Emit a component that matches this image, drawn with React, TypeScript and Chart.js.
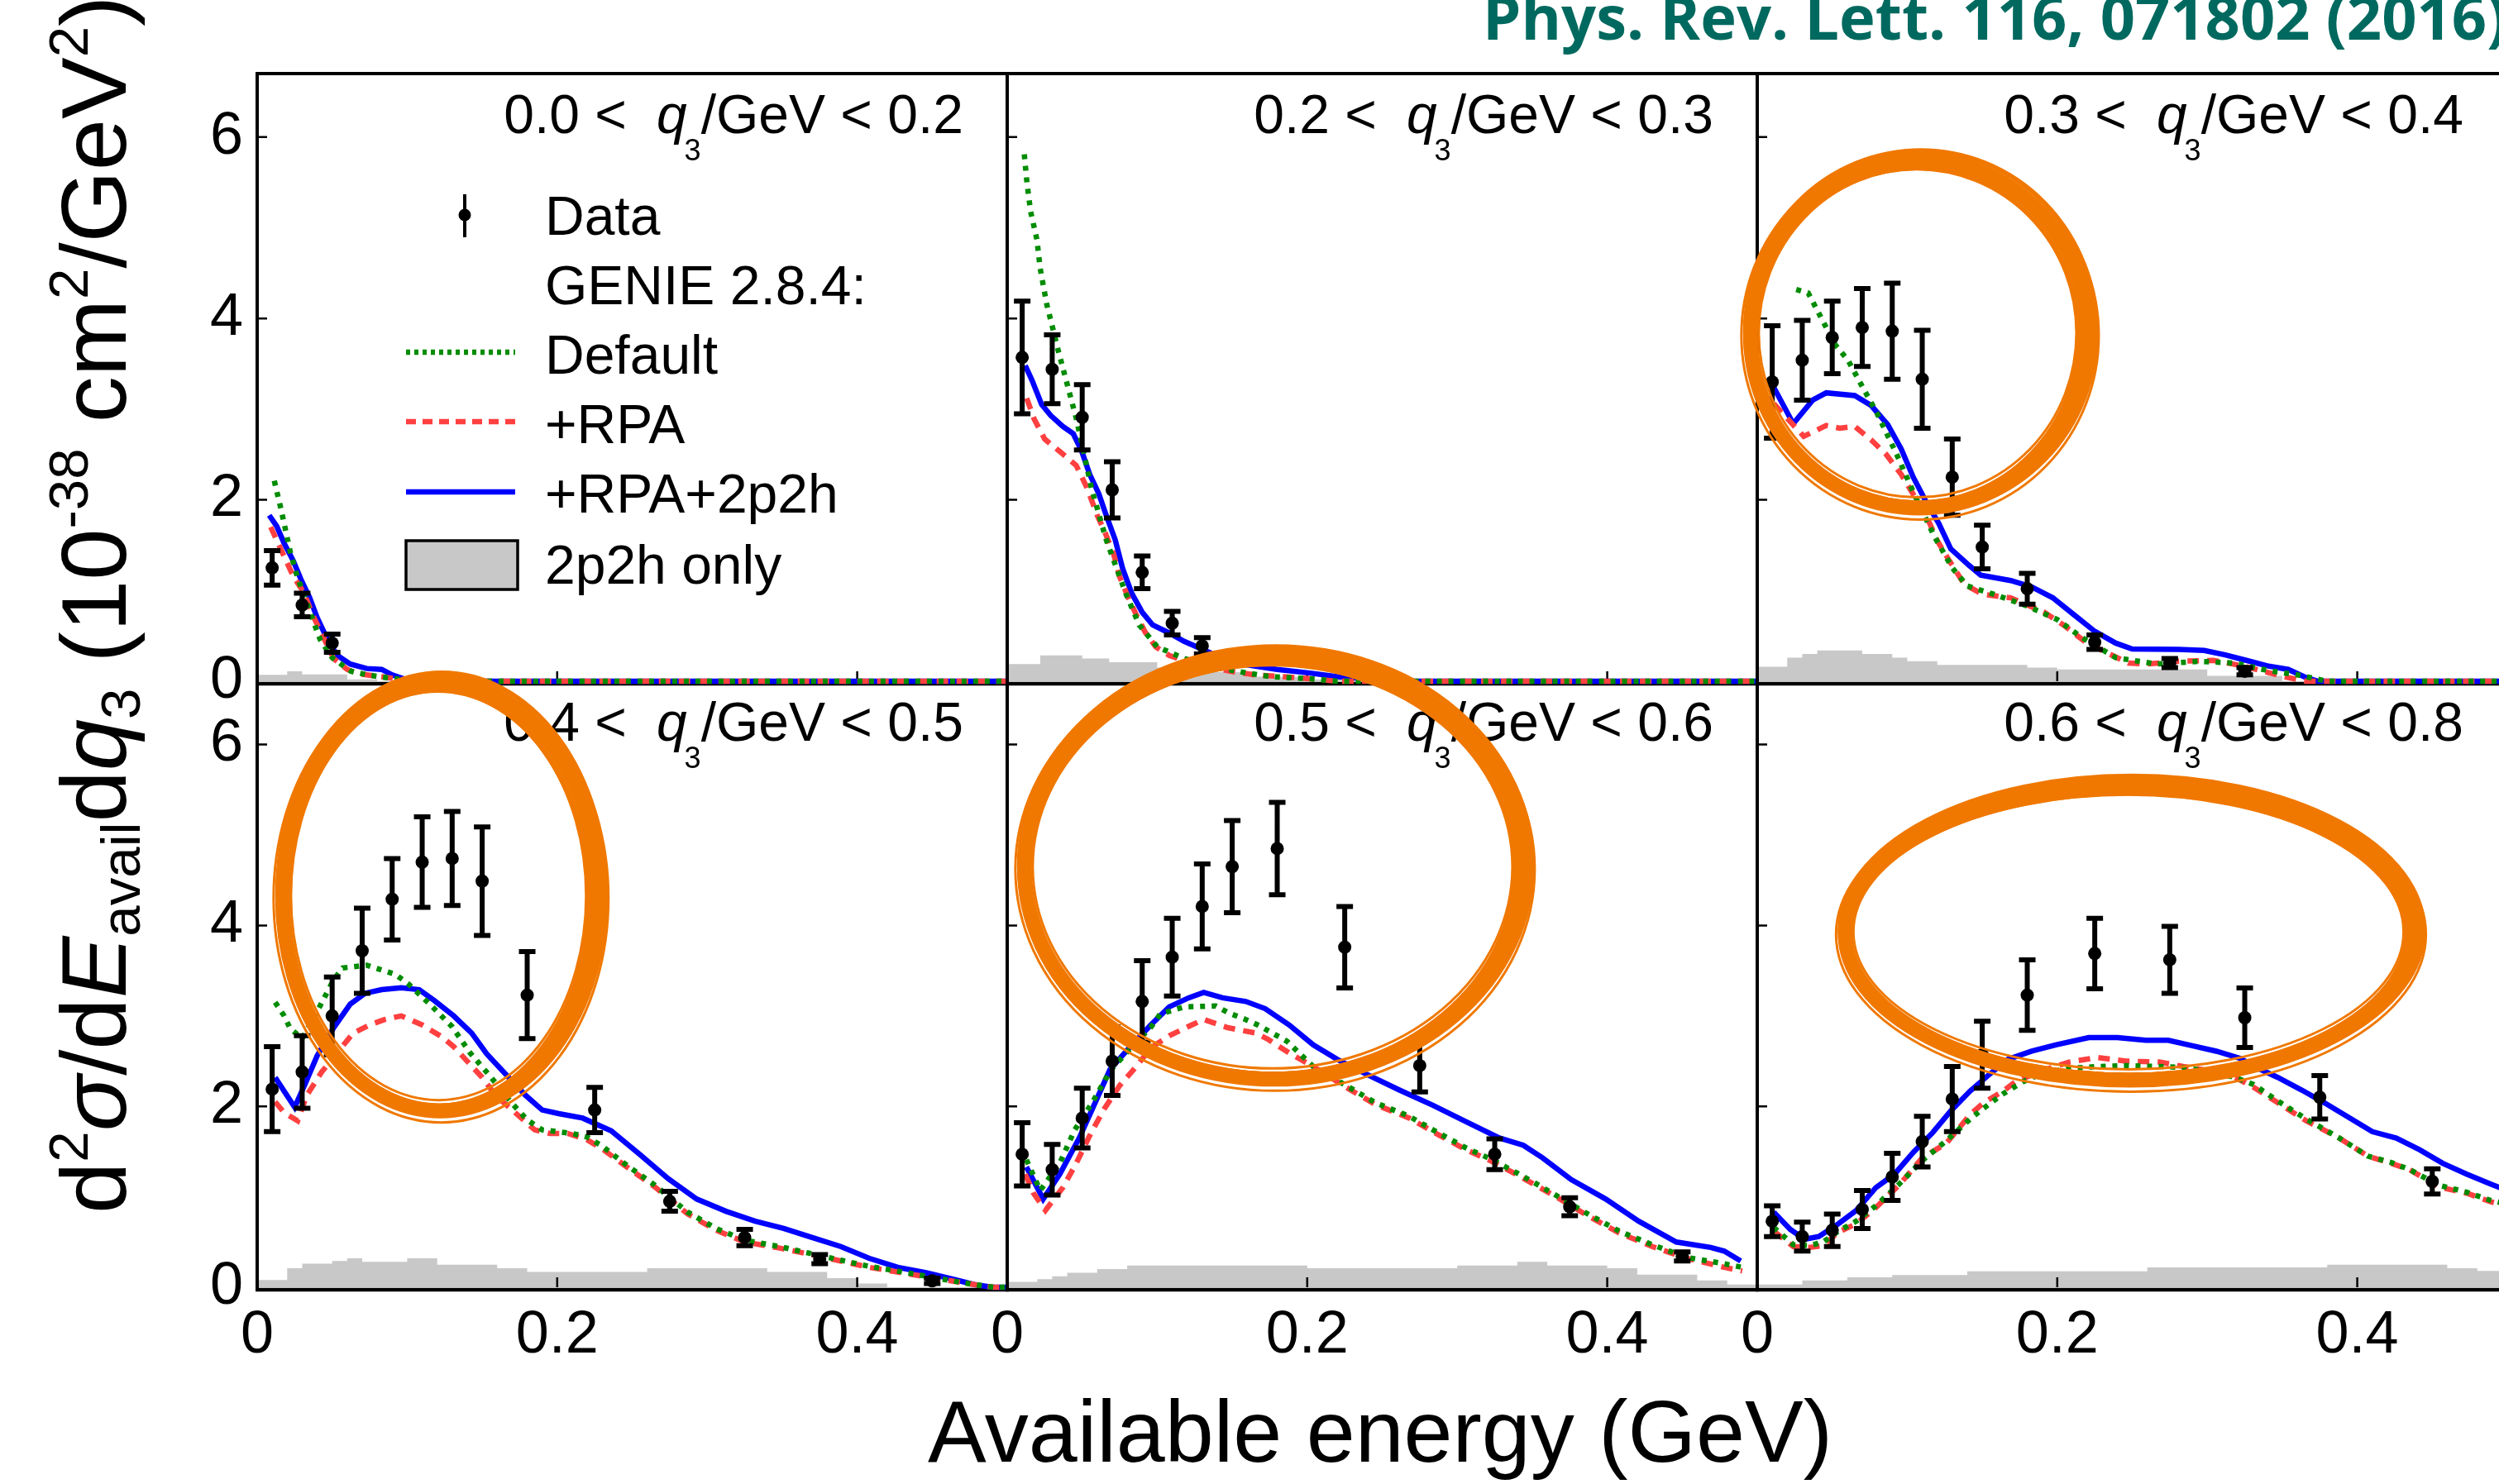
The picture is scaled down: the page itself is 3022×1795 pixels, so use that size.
import React, { useEffect, useRef } from 'react';
import { Chart, registerables } from 'chart.js';

Chart.register(...registerables);

type P = [number, number];

const FONT = "'Liberation Sans', Arial, Helvetica, sans-serif";
const ORANGE = '#f07800';
const BLUE = '#0000ff';
const RED = '#ff4040';
const GREEN = '#008c00';
const GRAY = '#c8c8c8';

// ---------- tick labels ----------
const xTicks = [0, 0.2, 0.4];
const yTicks = [0, 2, 4, 6];
const q3Low = ['0.0', '0.2', '0.3', '0.4', '0.5', '0.6'];
const q3High = ['0.2', '0.3', '0.4', '0.5', '0.6', '0.8'];
const legendLabels = ['Data', 'GENIE 2.8.4:', 'Default', '+RPA', '+RPA+2p2h', '2p2h only'];

// ---------- panel 1: 0.0 < q3 < 0.2 ----------
const p1DataX = [0.01, 0.03, 0.05];
const p1DataY = [1.25, 0.84, 0.42];
const p1DataErr = [0.19, 0.13, 0.1];
const p1Blue: P[] = [[0.008, 1.83], [0.013, 1.71], [0.018, 1.52], [0.024, 1.33], [0.029, 1.13], [0.035, 0.92], [0.04, 0.7], [0.046, 0.49], [0.053, 0.29], [0.062, 0.19], [0.073, 0.14], [0.083, 0.13], [0.09, 0.07], [0.099, 0.02], [0.11, 0], [0.5, 0]];
const p1Red: P[] = [[0.009, 1.7], [0.0165, 1.43], [0.024, 1.16], [0.031, 0.98], [0.037, 0.73], [0.044, 0.49], [0.051, 0.25], [0.06, 0.13], [0.068, 0.08], [0.083, 0.05], [0.1, 0.01], [0.11, 0], [0.5, 0]];
const p1Green: P[] = [[0.0114, 2.21], [0.016, 1.89], [0.022, 1.43], [0.0266, 1.16], [0.0386, 0.61], [0.042, 0.46], [0.05, 0.26], [0.0625, 0.11], [0.0735, 0.07], [0.09, 0.03], [0.11, 0], [0.5, 0]];
const p1Gray: P[] = [[0, 0.07], [0.02, 0.11], [0.03, 0.075], [0.06, 0.02], [0.08, 0], [0.5, 0]];

// ---------- panel 2: 0.2 < q3 < 0.3 ----------
const p2DataX = [0.01, 0.03, 0.05, 0.07, 0.09, 0.11, 0.13];
const p2DataY = [3.57, 3.44, 2.91, 2.11, 1.2, 0.64, 0.39];
const p2DataErr = [0.62, 0.38, 0.36, 0.31, 0.18, 0.13, 0.09];
const p2Blue: P[] = [[0.012, 3.48], [0.0165, 3.32], [0.023, 3.05], [0.029, 2.93], [0.037, 2.81], [0.044, 2.73], [0.0496, 2.54], [0.055, 2.28], [0.061, 2.07], [0.066, 1.83], [0.072, 1.56], [0.077, 1.24], [0.083, 0.97], [0.09, 0.76], [0.097, 0.62], [0.107, 0.54], [0.118, 0.44], [0.129, 0.36], [0.142, 0.265], [0.156, 0.19], [0.18, 0.13], [0.202, 0.09], [0.22, 0.05], [0.24, 0.03], [0.26, 0], [0.5, 0]];
const p2Red: P[] = [[0.013, 3.12], [0.018, 2.89], [0.025, 2.67], [0.036, 2.52], [0.046, 2.38], [0.053, 2.14], [0.06, 1.83], [0.065, 1.65], [0.071, 1.4], [0.075, 1.15], [0.081, 0.91], [0.086, 0.735], [0.092, 0.54], [0.099, 0.38], [0.108, 0.285], [0.118, 0.226], [0.129, 0.17], [0.149, 0.11], [0.165, 0.07], [0.184, 0.05], [0.2, 0.03], [0.22, 0], [0.5, 0]];
const p2Green: P[] = [[0.0114, 5.81], [0.0132, 5.49], [0.0156, 5.18], [0.0198, 4.87], [0.022, 4.55], [0.0263, 4.16], [0.031, 3.85], [0.033, 3.71], [0.037, 3.46], [0.046, 2.9], [0.05, 2.6], [0.056, 2.14], [0.066, 1.56], [0.079, 0.97], [0.088, 0.62], [0.1, 0.38], [0.118, 0.25], [0.14, 0.15], [0.16, 0.09], [0.176, 0.05], [0.2, 0.03], [0.22, 0], [0.5, 0]];
const p2Gray: P[] = [[0, 0.19], [0.022, 0.285], [0.05, 0.25], [0.068, 0.21], [0.1, 0.15], [0.13, 0.1], [0.16, 0.05], [0.2, 0.02], [0.26, 0], [0.5, 0]];

// ---------- panel 3: 0.3 < q3 < 0.4 ----------
const p3DataX = [0.01, 0.03, 0.05, 0.07, 0.09, 0.11, 0.13, 0.15, 0.18, 0.225, 0.275, 0.325];
const p3DataY = [3.3, 3.54, 3.79, 3.9, 3.86, 3.33, 2.25, 1.48, 1.02, 0.43, 0.2, 0.11];
const p3DataErr = [0.62, 0.44, 0.4, 0.43, 0.53, 0.54, 0.42, 0.24, 0.17, 0.08, 0.05, 0.04];
const p3Blue: P[] = [[0.011, 3.24], [0.024, 2.84], [0.037, 3.1], [0.046, 3.18], [0.065, 3.15], [0.076, 3.04], [0.087, 2.83], [0.096, 2.56], [0.104, 2.25], [0.1125, 1.98], [0.121, 1.74], [0.129, 1.46], [0.141, 1.28], [0.149, 1.17], [0.169, 1.11], [0.183, 1.04], [0.197, 0.92], [0.211, 0.735], [0.225, 0.55], [0.239, 0.42], [0.25, 0.355], [0.281, 0.35], [0.298, 0.34], [0.312, 0.29], [0.326, 0.23], [0.34, 0.17], [0.354, 0.13], [0.366, 0.04], [0.374, 0], [0.5, 0]];
const p3Red: P[] = [[0.011, 3.06], [0.031, 2.7], [0.046, 2.82], [0.055, 2.79], [0.065, 2.81], [0.076, 2.66], [0.086, 2.5], [0.096, 2.28], [0.107, 1.98], [0.115, 1.74], [0.12, 1.55], [0.128, 1.33], [0.138, 1.07], [0.15, 0.96], [0.169, 0.92], [0.18, 0.84], [0.191, 0.765], [0.205, 0.61], [0.219, 0.43], [0.2335, 0.31], [0.2475, 0.2], [0.26, 0.19], [0.281, 0.22], [0.304, 0.23], [0.3235, 0.17], [0.3375, 0.11], [0.354, 0.04], [0.366, 0], [0.5, 0]];
const p3Green: P[] = [[0.026, 4.32], [0.034, 4.28], [0.052, 3.71], [0.0605, 3.54], [0.07, 3.25], [0.08, 2.95], [0.093, 2.5], [0.105, 2.05], [0.118, 1.6], [0.13, 1.25], [0.14, 1.05], [0.1575, 0.96], [0.18, 0.83], [0.2, 0.68], [0.2166, 0.48], [0.239, 0.26], [0.266, 0.19], [0.295, 0.22], [0.318, 0.2], [0.34, 0.12], [0.36, 0.07], [0.38, 0], [0.5, 0]];
const p3Gray: P[] = [[0, 0.16], [0.02, 0.26], [0.03, 0.3], [0.04, 0.34], [0.07, 0.3], [0.09, 0.26], [0.1, 0.22], [0.12, 0.18], [0.18, 0.15], [0.2, 0.13], [0.3, 0.06], [0.35, 0], [0.5, 0]];

// ---------- panel 4: 0.4 < q3 < 0.5 ----------
const p4DataX = [0.01, 0.03, 0.05, 0.07, 0.09, 0.11, 0.13, 0.15, 0.18, 0.225, 0.275, 0.325, 0.375, 0.45];
const p4DataY = [2.19, 2.38, 3.0, 3.72, 4.29, 4.7, 4.74, 4.49, 3.23, 1.96, 0.95, 0.55, 0.31, 0.07];
const p4DataErr = [0.47, 0.4, 0.43, 0.47, 0.45, 0.5, 0.52, 0.6, 0.48, 0.25, 0.11, 0.09, 0.05, 0.03];
const p4Blue: P[] = [[0.012, 2.32], [0.025, 1.99], [0.032, 2.25], [0.04, 2.56], [0.051, 2.87], [0.062, 3.13], [0.072, 3.25], [0.083, 3.29], [0.096, 3.31], [0.108, 3.29], [0.118, 3.17], [0.131, 3.0], [0.143, 2.81], [0.153, 2.58], [0.166, 2.35], [0.179, 2.12], [0.19, 1.96], [0.201, 1.92], [0.217, 1.87], [0.236, 1.73], [0.255, 1.47], [0.274, 1.2], [0.293, 0.975], [0.3125, 0.84], [0.332, 0.73], [0.351, 0.65], [0.37, 0.55], [0.389, 0.45], [0.408, 0.32], [0.427, 0.22], [0.446, 0.16], [0.466, 0.08], [0.478, 0.03], [0.49, 0], [0.5, 0]];
const p4Red: P[] = [[0.012, 2.05], [0.018, 1.93], [0.027, 1.84], [0.033, 2.12], [0.043, 2.38], [0.064, 2.81], [0.075, 2.9], [0.085, 2.96], [0.096, 3.0], [0.11, 2.9], [0.123, 2.77], [0.131, 2.66], [0.15, 2.32], [0.159, 2.12], [0.172, 1.93], [0.185, 1.74], [0.195, 1.7], [0.207, 1.7], [0.22, 1.63], [0.23, 1.53], [0.2455, 1.34], [0.265, 1.11], [0.287, 0.81], [0.306, 0.63], [0.325, 0.5], [0.3476, 0.435], [0.367, 0.37], [0.389, 0.29], [0.408, 0.22], [0.43, 0.16], [0.453, 0.095], [0.478, 0.03], [0.491, 0], [0.5, 0]];
const p4Green: P[] = [[0.012, 3.15], [0.018, 3.0], [0.022, 2.86], [0.03, 2.75], [0.04, 3.05], [0.051, 3.4], [0.057, 3.53], [0.073, 3.56], [0.092, 3.46], [0.101, 3.35], [0.115, 3.13], [0.13, 2.88], [0.142, 2.59], [0.156, 2.32], [0.169, 2.05], [0.18, 1.85], [0.19, 1.74], [0.2, 1.72], [0.21, 1.7], [0.22, 1.66], [0.23, 1.56], [0.2455, 1.36], [0.265, 1.13], [0.287, 0.83], [0.306, 0.65], [0.325, 0.52], [0.348, 0.45], [0.367, 0.38], [0.389, 0.3], [0.408, 0.23], [0.43, 0.17], [0.453, 0.1], [0.478, 0.03], [0.491, 0], [0.5, 0]];
const p4Gray: P[] = [[0, 0.08], [0.02, 0.21], [0.03, 0.26], [0.05, 0.29], [0.06, 0.32], [0.07, 0.28], [0.1, 0.32], [0.12, 0.25], [0.16, 0.21], [0.18, 0.17], [0.26, 0.21], [0.34, 0.17], [0.38, 0.1], [0.4, 0.04], [0.42, 0], [0.5, 0]];

// ---------- panel 5: 0.5 < q3 < 0.6 ----------
const p5DataX = [0.01, 0.03, 0.05, 0.07, 0.09, 0.11, 0.13, 0.15, 0.18, 0.225, 0.275, 0.325, 0.375, 0.45];
const p5DataY = [1.47, 1.3, 1.87, 2.5, 3.16, 3.65, 4.21, 4.65, 4.85, 3.76, 2.45, 1.47, 0.89, 0.34];
const p5DataErr = [0.35, 0.28, 0.33, 0.38, 0.45, 0.43, 0.47, 0.51, 0.51, 0.45, 0.29, 0.17, 0.1, 0.05];
const p5Blue: P[] = [[0.0128, 1.33], [0.024, 0.975], [0.035, 1.25], [0.048, 1.65], [0.057, 1.98], [0.0686, 2.41], [0.081, 2.64], [0.0957, 2.9], [0.108, 3.1], [0.121, 3.2], [0.131, 3.26], [0.1435, 3.2], [0.159, 3.16], [0.172, 3.08], [0.188, 2.9], [0.204, 2.68], [0.22, 2.52], [0.239, 2.36], [0.2615, 2.18], [0.284, 2.01], [0.306, 1.83], [0.328, 1.65], [0.344, 1.57], [0.357, 1.43], [0.376, 1.19], [0.399, 0.975], [0.421, 0.73], [0.446, 0.5], [0.469, 0.44], [0.478, 0.4], [0.489, 0.29]];
const p5Red: P[] = [[0.012, 1.25], [0.0175, 1.04], [0.0255, 0.85], [0.037, 1.1], [0.046, 1.37], [0.056, 1.71], [0.065, 1.98], [0.075, 2.23], [0.086, 2.44], [0.096, 2.65], [0.108, 2.78], [0.123, 2.9], [0.131, 2.96], [0.147, 2.87], [0.166, 2.81], [0.174, 2.74], [0.188, 2.59], [0.204, 2.44], [0.226, 2.21], [0.2455, 2.02], [0.268, 1.87], [0.287, 1.69], [0.306, 1.52], [0.322, 1.4], [0.338, 1.26], [0.351, 1.14], [0.367, 0.99], [0.386, 0.8], [0.408, 0.6], [0.43, 0.45], [0.453, 0.32], [0.478, 0.22], [0.49, 0.18]];
const p5Green: P[] = [[0.0128, 1.41], [0.022, 1.07], [0.035, 1.37], [0.045, 1.74], [0.057, 2.05], [0.069, 2.4], [0.081, 2.62], [0.096, 2.88], [0.102, 3.02], [0.118, 3.1], [0.139, 3.11], [0.148, 3.03], [0.159, 2.96], [0.167, 2.9], [0.1865, 2.72], [0.204, 2.44], [0.226, 2.23], [0.2455, 2.04], [0.268, 1.89], [0.287, 1.71], [0.306, 1.54], [0.322, 1.42], [0.338, 1.28], [0.351, 1.16], [0.367, 1.005], [0.386, 0.82], [0.408, 0.62], [0.43, 0.47], [0.453, 0.33], [0.478, 0.26], [0.49, 0.22]];
const p5Gray: P[] = [[0, 0.06], [0.02, 0.09], [0.03, 0.12], [0.04, 0.16], [0.06, 0.2], [0.08, 0.24], [0.2, 0.21], [0.3, 0.24], [0.34, 0.28], [0.36, 0.24], [0.4, 0.21], [0.42, 0.14], [0.46, 0.075], [0.48, 0.03], [0.5, 0.03]];

// ---------- panel 6: 0.6 < q3 < 0.8 ----------
const p6DataX = [0.01, 0.03, 0.05, 0.07, 0.09, 0.11, 0.13, 0.15, 0.18, 0.225, 0.275, 0.325, 0.375, 0.45];
const p6DataY = [0.73, 0.56, 0.63, 0.86, 1.22, 1.61, 2.08, 2.57, 3.23, 3.69, 3.62, 2.98, 2.1, 1.17];
const p6DataErr = [0.17, 0.16, 0.18, 0.21, 0.26, 0.28, 0.36, 0.37, 0.39, 0.39, 0.37, 0.33, 0.24, 0.14];
const p6Blue: P[] = [[0.011, 0.83], [0.022, 0.64], [0.0315, 0.53], [0.041, 0.56], [0.054, 0.7], [0.066, 0.85], [0.079, 1.1], [0.0915, 1.25], [0.104, 1.49], [0.117, 1.71], [0.129, 1.95], [0.142, 2.17], [0.1545, 2.35], [0.167, 2.52], [0.183, 2.61], [0.199, 2.68], [0.221, 2.76], [0.24, 2.76], [0.259, 2.73], [0.274, 2.73], [0.29, 2.67], [0.306, 2.61], [0.322, 2.53], [0.334, 2.42], [0.347, 2.32], [0.363, 2.18], [0.378, 2.04], [0.394, 1.88], [0.41, 1.72], [0.426, 1.65], [0.4415, 1.52], [0.457, 1.37], [0.473, 1.25], [0.489, 1.14], [0.5, 1.07]];
const p6Red: P[] = [[0.011, 0.62], [0.024, 0.45], [0.035, 0.44], [0.044, 0.46], [0.054, 0.61], [0.066, 0.7], [0.079, 0.88], [0.0946, 1.13], [0.11, 1.43], [0.126, 1.59], [0.142, 1.91], [0.151, 2.04], [0.164, 2.17], [0.172, 2.27], [0.189, 2.39], [0.208, 2.49], [0.227, 2.54], [0.246, 2.5], [0.268, 2.49], [0.284, 2.44], [0.303, 2.39], [0.3185, 2.32], [0.331, 2.21], [0.347, 2.04], [0.366, 1.84], [0.388, 1.65], [0.407, 1.45], [0.4226, 1.37], [0.435, 1.3], [0.454, 1.11], [0.473, 1.04], [0.489, 0.945], [0.5, 0.9]];
const p6Green: P[] = [[0.011, 0.66], [0.024, 0.47], [0.035, 0.46], [0.044, 0.5], [0.054, 0.62], [0.066, 0.73], [0.079, 0.9], [0.0946, 1.14], [0.11, 1.4], [0.126, 1.62], [0.142, 1.86], [0.151, 1.98], [0.164, 2.14], [0.177, 2.27], [0.189, 2.36], [0.208, 2.42], [0.227, 2.44], [0.246, 2.45], [0.268, 2.44], [0.284, 2.43], [0.303, 2.38], [0.3185, 2.32], [0.331, 2.24], [0.347, 2.06], [0.366, 1.86], [0.388, 1.65], [0.407, 1.45], [0.4226, 1.38], [0.435, 1.3], [0.454, 1.13], [0.473, 1.05], [0.489, 0.96], [0.5, 0.92]];
const p6Gray: P[] = [[0, 0.03], [0.03, 0.075], [0.06, 0.11], [0.09, 0.135], [0.14, 0.175], [0.26, 0.22], [0.38, 0.25], [0.46, 0.21], [0.48, 0.18], [0.5, 0.18]];

// ---------- hand-drawn highlight ellipses (data coordinates of their panel) ----------
type Ell = { cx: number; cy: number; rx: number; ry: number };
const ellipsePanel3: Ell[] = [{ cx: 0.108, cy: 3.83, rx: 0.1125, ry: 1.92 }];
const ellipsePanel4: Ell[] = [{ cx: 0.122, cy: 4.32, rx: 0.105, ry: 2.37 }];
const ellipsePanel5: Ell[] = [{ cx: 0.178, cy: 4.64, rx: 0.1665, ry: 2.34 }];
const ellipsePanel6: Ell[] = [{ cx: 0.2486, cy: 3.92, rx: 0.19, ry: 1.63 }];

type Panel = {
  dataX: number[]; dataY: number[]; dataErr: number[];
  blue: P[]; red: P[]; green: P[]; gray: P[]; ellipses: Ell[];
};

const panels: Panel[] = [
  { dataX: p1DataX, dataY: p1DataY, dataErr: p1DataErr, blue: p1Blue, red: p1Red, green: p1Green, gray: p1Gray, ellipses: [] },
  { dataX: p2DataX, dataY: p2DataY, dataErr: p2DataErr, blue: p2Blue, red: p2Red, green: p2Green, gray: p2Gray, ellipses: [] },
  { dataX: p3DataX, dataY: p3DataY, dataErr: p3DataErr, blue: p3Blue, red: p3Red, green: p3Green, gray: p3Gray, ellipses: ellipsePanel3 },
  { dataX: p4DataX, dataY: p4DataY, dataErr: p4DataErr, blue: p4Blue, red: p4Red, green: p4Green, gray: p4Gray, ellipses: ellipsePanel4 },
  { dataX: p5DataX, dataY: p5DataY, dataErr: p5DataErr, blue: p5Blue, red: p5Red, green: p5Green, gray: p5Gray, ellipses: ellipsePanel5 },
  { dataX: p6DataX, dataY: p6DataY, dataErr: p6DataErr, blue: p6Blue, red: p6Red, green: p6Green, gray: p6Gray, ellipses: ellipsePanel6 },
];

// ---------- layout ----------
const CW = 3040;
const CH = 1795;
const colLeft = [311, 1218, 2125];
const colRight = [1218, 2125, 3032];
const rowTop = [89, 824];
const rowBottom = [824, 1557];
const YW = 150;
const XH = 150;
const LW = 6.5;

const pts = (a: P[]) => a.map(([x, y]) => ({ x, y }));

const panelPlugin = {
  id: 'panelDeco',
  afterDatasetDraw(chart: any, args: any, opts: any) {
    const ds = chart.data.datasets[args.index];
    const ctx = chart.ctx;
    const ca = chart.chartArea;
    const xs = chart.scales.x;
    const ys = chart.scales.y;
    if (ds.label === '2p2h only') {
      ctx.save();
      ctx.strokeStyle = '#000';
      ctx.lineWidth = 2.5;
      ctx.beginPath();
      yTicks.filter((v) => v > 0).forEach((v) => {
        const py = ys.getPixelForValue(v);
        ctx.moveTo(ca.left, py);
        ctx.lineTo(ca.left + 12, py);
      });
      xTicks.filter((v) => v > 0).forEach((v) => {
        const px = xs.getPixelForValue(v);
        ctx.moveTo(px, ca.bottom);
        ctx.lineTo(px, ca.bottom - 12);
      });
      ctx.stroke();
      // frame: bottom edge sits just under the zero level, like the original
      const bY = ca.bottom + 3;
      ctx.lineWidth = 4;
      ctx.beginPath();
      ctx.moveTo(ca.left, bY + 2);
      ctx.lineTo(ca.left, ca.top);
      if (!opts.skipTop) {
        ctx.moveTo(ca.left - 2, ca.top);
        ctx.lineTo(ca.right + 2, ca.top);
      }
      ctx.moveTo(ca.right, ca.top);
      ctx.lineTo(ca.right, bY + 2);
      ctx.stroke();
      ctx.lineWidth = 4.5;
      ctx.beginPath();
      ctx.moveTo(ca.left - 2, bY);
      ctx.lineTo(ca.right + 2, bY);
      ctx.stroke();
      ctx.restore();
    }
  },
  beforeDatasetDraw(chart: any, args: any) {
    const ds = chart.data.datasets[args.index];
    if (!ds.errors) return;
    const ctx = chart.ctx;
    const ys = chart.scales.y;
    const meta = chart.getDatasetMeta(args.index);
    ctx.save();
    ctx.strokeStyle = '#000';
    ctx.lineWidth = 6;
    ctx.beginPath();
    meta.data.forEach((el: any, i: number) => {
      const v = ds.data[i].y;
      const e = ds.errors[i];
      const top = ys.getPixelForValue(v + e);
      const bot = ys.getPixelForValue(v - e);
      ctx.moveTo(el.x, top);
      ctx.lineTo(el.x, bot);
      ctx.moveTo(el.x - 10, top);
      ctx.lineTo(el.x + 10, top);
      ctx.moveTo(el.x - 10, bot);
      ctx.lineTo(el.x + 10, bot);
    });
    ctx.stroke();
    ctx.restore();
  },
  afterDraw(chart: any, _args: any, opts: any) {
    const ctx = chart.ctx;
    const ca = chart.chartArea;
    const xs = chart.scales.x;
    const ys = chart.scales.y;
    // panel title
    ctx.save();
    ctx.fillStyle = '#000';
    ctx.textBaseline = 'alphabetic';
    const fs = 66;
    const right = ca.right - 53;
    const base = ca.top + 72;
    ctx.font = `${fs}px ${FONT}`;
    const part3 = `/GeV < ${opts.hi}`;
    const w3 = ctx.measureText(part3).width;
    ctx.font = `36px ${FONT}`;
    const wSub = ctx.measureText('3').width;
    ctx.font = `italic ${fs}px ${FONT}`;
    const wq = ctx.measureText('q').width;
    ctx.font = `${fs}px ${FONT}`;
    const part1 = `${opts.lo} <`;
    const w1 = ctx.measureText(part1).width;
    const x3 = right - w3;
    const xSub = x3 - wSub;
    const xq = xSub - wq + 3;
    const x1 = xq - 36 - w1;
    ctx.fillText(part1, x1, base);
    ctx.fillText(part3, x3, base);
    ctx.font = `italic ${fs}px ${FONT}`;
    ctx.fillText('q', xq, base);
    ctx.font = `36px ${FONT}`;
    ctx.fillText('3', xSub, base + 33);
    ctx.restore();

    // legend (first panel only)
    if (opts.legend) {
      const L = ca.left;
      const T = ca.top;
      const lx0 = L + 180;
      const lx1 = L + 312;
      const tx = L + 348;
      const lfs = 66;
      const rows = [171, 255, 339, 423, 507, 593];
      ctx.save();
      ctx.fillStyle = '#000';
      ctx.font = `${lfs}px ${FONT}`;
      ctx.textBaseline = 'alphabetic';
      legendLabels.forEach((t, i) => ctx.fillText(t, tx, T + rows[i] + 0.358 * lfs));
      ctx.strokeStyle = '#000';
      ctx.lineWidth = 4;
      ctx.beginPath();
      ctx.moveTo(L + 251, T + 146);
      ctx.lineTo(L + 251, T + 198);
      ctx.stroke();
      ctx.beginPath();
      ctx.arc(L + 251, T + 171, 7.5, 0, Math.PI * 2);
      ctx.fill();
      const line = (color: string, dash: number[], y: number) => {
        ctx.strokeStyle = color;
        ctx.lineWidth = LW;
        ctx.setLineDash(dash);
        ctx.beginPath();
        ctx.moveTo(lx0, y);
        ctx.lineTo(lx1, y);
        ctx.stroke();
      };
      line(GREEN, [5, 5], T + 337);
      line(RED, [12, 8], T + 421);
      line(BLUE, [], T + 506);
      ctx.setLineDash([]);
      ctx.fillStyle = GRAY;
      ctx.fillRect(lx0, T + 565, 135, 59);
      ctx.strokeStyle = '#000';
      ctx.lineWidth = 3.5;
      ctx.strokeRect(lx0, T + 565, 135, 59);
      ctx.restore();
    }

    // hand-drawn ellipses
    const ells: Ell[] = opts.ellipses || [];
    ells.forEach((e) => {
      const cx = xs.getPixelForValue(e.cx);
      const cy = ys.getPixelForValue(e.cy);
      const rx = xs.getPixelForValue(e.cx + e.rx) - cx;
      const ry = cy - ys.getPixelForValue(e.cy + e.ry);
      const passes = [
        [0, 0, 0, 18],
        [2, -3, 8, 6],
        [-3, 2, -8, 6],
        [1, 2, 12, 3],
        [-2, -1, -12, 3],
        [3, 1, 4, 4],
        [-1, -3, -4, 4],
      ];
      ctx.save();
      ctx.strokeStyle = ORANGE;
      passes.forEach(([dx, dy, dr, w]) => {
        ctx.lineWidth = w;
        ctx.beginPath();
        ctx.ellipse(cx + dx, cy + dy, Math.max(rx + dr, 1), Math.max(ry + dr, 1), 0, 0, Math.PI * 2);
        ctx.stroke();
      });
      ctx.restore();
    });
  },
};

function makeConfig(p: Panel, idx: number): any {
  const col = idx % 3;
  const row = Math.floor(idx / 3);
  const L = colLeft[col];
  const R = colRight[col];
  const T = rowTop[row];
  const B = rowBottom[row];
  const showY = col === 0;
  const showX = row === 1;
  return {
    type: 'line',
    data: {
      datasets: [
        {
          label: 'Data',
          data: p.dataX.map((x, i) => ({ x, y: p.dataY[i] })),
          errors: p.dataErr,
          showLine: false,
          pointRadius: 8,
          pointBackgroundColor: '#000',
          pointBorderColor: '#000',
          pointBorderWidth: 0,
          order: 0,
          clip: false,
        },
        {
          label: 'Default',
          data: pts(p.green),
          borderColor: GREEN,
          borderWidth: LW,
          borderDash: [6, 8],
          pointRadius: 0,
          tension: 0,
          order: 1,
          clip: false,
        },
        {
          label: '+RPA',
          data: pts(p.red),
          borderColor: RED,
          borderWidth: LW,
          borderDash: [14, 10],
          pointRadius: 0,
          tension: 0,
          order: 2,
          clip: false,
        },
        {
          label: '+RPA+2p2h',
          data: pts(p.blue),
          borderColor: BLUE,
          borderWidth: LW,
          pointRadius: 0,
          tension: 0,
          order: 3,
          clip: false,
        },
        {
          label: '2p2h only',
          data: pts(p.gray),
          stepped: 'before',
          fill: 'origin',
          backgroundColor: GRAY,
          borderColor: 'rgba(0,0,0,0)',
          borderWidth: 0,
          pointRadius: 0,
          order: 4,
          clip: false,
        },
      ],
    },
    options: {
      responsive: false,
      animation: false,
      devicePixelRatio: 1,
      events: [],
      layout: { padding: { left: L - YW, right: CW - R, top: T, bottom: CH - B - XH } },
      plugins: {
        legend: { display: false },
        tooltip: { enabled: false },
        panelDeco: { lo: q3Low[idx], hi: q3High[idx], legend: idx === 0, ellipses: p.ellipses, skipTop: row === 1 },
      },
      scales: {
        x: {
          type: 'linear',
          min: 0,
          max: 0.5,
          afterFit: (s: any) => { s.height = XH; },
          afterBuildTicks: (s: any) => { s.ticks = xTicks.map((v) => ({ value: v })); },
          ticks: {
            display: showX,
            autoSkip: false,
            maxRotation: 0,
            padding: 16,
            color: '#000',
            font: { family: FONT, size: 72 },
            callback: (v: number) => String(v),
          },
          grid: { display: false, drawTicks: false },
          border: { display: false },
        },
        y: {
          type: 'linear',
          min: 0,
          max: 6.7,
          afterFit: (s: any) => { s.width = YW; },
          afterBuildTicks: (s: any) => { s.ticks = yTicks.map((v) => ({ value: v })); },
          ticks: {
            display: showY,
            autoSkip: false,
            padding: 17,
            color: '#000',
            font: { family: FONT, size: 72 },
            callback: (v: number) => String(v),
          },
          grid: { display: false, drawTicks: false },
          border: { display: false },
        },
      },
    },
    plugins: [panelPlugin],
  };
}

const supStyle: React.CSSProperties = { fontSize: '0.6em', position: 'relative', top: '-0.68em', lineHeight: 0, verticalAlign: 'baseline' };
const subStyle: React.CSSProperties = { fontSize: '0.6em', position: 'relative', top: '0.25em', lineHeight: 0, verticalAlign: 'baseline' };

export default function App() {
  const refs = useRef<(HTMLCanvasElement | null)[]>([]);
  useEffect(() => {
    const charts = panels.map((p, i) => new Chart(refs.current[i] as HTMLCanvasElement, makeConfig(p, i)));
    return () => charts.forEach((c) => c.destroy());
  }, []);
  return (
    <div style={{ position: 'fixed', left: 0, top: 0, width: 3022, height: 1795, overflow: 'hidden', background: '#fff' }}>
      {panels.map((_, i) => (
        <canvas
          key={i}
          ref={(el) => { refs.current[i] = el; }}
          width={CW}
          height={CH}
          style={{ position: 'absolute', left: 0, top: 0, width: CW, height: CH }}
        />
      ))}
      <div
        style={{
          position: 'absolute', left: 1793, top: -17, fontFamily: "'Open Sans', sans-serif", fontWeight: 700,
          fontSize: 74, lineHeight: 1, color: '#00695f', letterSpacing: 0, whiteSpace: 'nowrap',
        }}
      >
        Phys. Rev. Lett. 116, 071802 (2016)
      </div>
      <div
        style={{
          position: 'absolute', left: 1669, top: 1678, transform: 'translateX(-50%)', fontFamily: FONT,
          fontSize: 106, lineHeight: 1, color: '#000', whiteSpace: 'nowrap',
        }}
      >
        Available energy (GeV)
      </div>
      <div
        style={{
          position: 'absolute', left: 58, top: 1468, transform: 'rotate(-90deg)', transformOrigin: '0 0',
          fontFamily: FONT, fontSize: 112, lineHeight: 1, color: '#000', whiteSpace: 'nowrap',
        }}
      >
        d<span style={supStyle}>2</span><i>σ</i>/d<i>E</i><span style={subStyle}>avail</span>d<i>q</i>
        <span style={subStyle}>3</span> (10<span style={supStyle}>-38</span> cm<span style={supStyle}>2</span>/GeV
        <span style={supStyle}>2</span>)
      </div>
    </div>
  );
}
